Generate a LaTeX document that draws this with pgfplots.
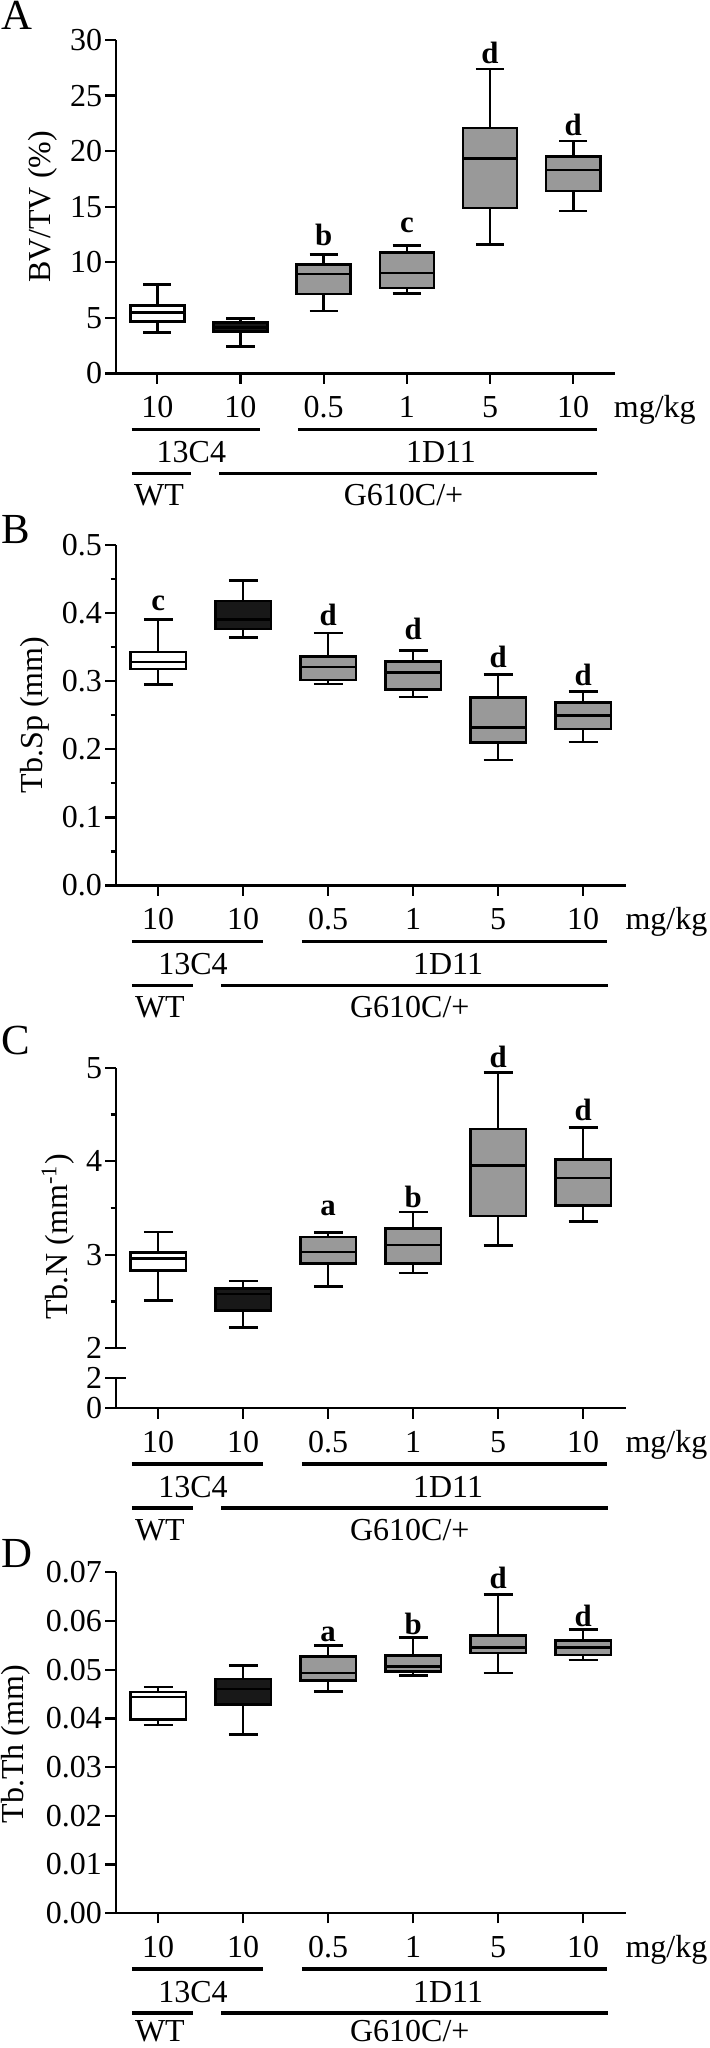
\documentclass[border=0pt]{standalone}
\usepackage{fontspec}
\setmainfont{Liberation Serif}
\usepackage{pgfplots}
\pgfplotsset{compat=1.18}
\usepgfplotslibrary{statistics}
\newcommand\lab{\fontsize{11.2}{13}\selectfont}
\definecolor{boxgray}{HTML}{999999}
\definecolor{boxblack}{HTML}{181818}
\newcommand{\bx}[7]{\addplot[boxplot prepared={draw position=#1, lower whisker=#2, lower quartile=#3, median=#4, upper quartile=#5, upper whisker=#6, box extend=0.65, whisker extend=0.34}, draw=black, line width=0.9pt, fill=#7] coordinates {};}
\newcommand{\sig}[3]{\node[font=\fontsize{10.8}{12}\selectfont\bfseries, inner sep=0pt] at (axis cs:#1,#2) {#3};}
\newcommand{\grp}[1][46.4pt]{%
 \draw[line width=1.25pt] ([yshift=-19.6pt]axis cs:0.69,0) -- ([yshift=-19.6pt]axis cs:2.23,0);
 \draw[line width=1.25pt] ([yshift=-19.6pt]axis cs:2.69,0) -- ([yshift=-19.6pt]axis cs:6.28,0);
 \draw[line width=1.25pt] ([yshift=-35pt]axis cs:0.69,0) -- ([yshift=-35pt]axis cs:1.41,0);
 \draw[line width=1.25pt] ([yshift=-35pt]axis cs:1.74,0) -- ([yshift=-35pt]axis cs:6.29,0);
 \node[anchor=base, font=\lab, inner sep=0pt] at ([yshift=-15.6pt]axis cs:6.98,0) {mg/kg};
 \node[anchor=base, font=\lab, inner sep=0pt] at ([yshift=-31.3pt]axis cs:1.41,0) {13C4};
 \node[anchor=base, font=\lab, inner sep=0pt] at ([yshift=-31.3pt]axis cs:4.41,0) {1D11};
 \node[anchor=base, font=\lab, inner sep=0pt] at ([yshift=-#1]axis cs:1.02,0) {WT};
 \node[anchor=base, font=\lab, inner sep=0pt] at ([yshift=-#1]axis cs:3.96,0) {G610C/+};
}
\pgfplotsset{myax/.style={scale only axis, axis x line*=bottom, axis y line*=left,
  boxplot/draw direction=y,
  xmin=0.5, xmax=6.5, ymin=0, xtick={1,...,6}, xticklabels={10,10,0.5,1,5,10},
  tick align=outside, major tick length=3.6pt, minor tick length=1.8pt,
  every tick/.style={black, line width=0.8pt}, axis line style={line width=0.8pt, black},
  ticklabel style={font=\lab},
  xticklabel style={anchor=base, yshift=-12pt},
  yticklabel style={inner sep=1pt},
  scaled y ticks=false, clip=false, width=178.5pt}}
\begin{document}
\begin{tikzpicture}
\begin{scope}[x=0.35pt,y=-0.35pt]
\path[use as bounding box] (0,0) rectangle (709,2048);
\end{scope}
% Panel A
\begin{axis}[myax, at={(40.5pt,-130.7pt)}, anchor=south west, width=174.7pt, height=116.7pt,
  ymax=30, ytick={0,5,10,15,20,25,30}, yticklabels={0,5,10,15,20,25,30}]
\bx{1}{3.7}{4.65}{5.5}{6.1}{8.0}{white}
\bx{2}{2.4}{3.75}{4.15}{4.6}{4.95}{boxblack}
\bx{3}{5.6}{7.15}{8.95}{9.8}{10.7}{boxgray}
\bx{4}{7.2}{7.7}{9.05}{10.9}{11.5}{boxgray}
\bx{5}{11.6}{14.9}{19.35}{22.1}{27.4}{boxgray}
\bx{6}{14.6}{16.4}{18.3}{19.5}{20.9}{boxgray}
\sig{3}{12.45}{b}\sig{4}{13.3}{c}\sig{5}{28.8}{d}\sig{6}{22.4}{d}
\grp
\end{axis}
% Panel B
\begin{axis}[myax, at={(40.5pt,-309.9pt)}, anchor=south west, height=119.1pt,
  ymax=0.5, ytick={0,0.1,0.2,0.3,0.4,0.5}, yticklabels={0.0,0.1,0.2,0.3,0.4,0.5},
  minor ytick={0.05,0.15,0.25,0.35,0.45}]
\bx{1}{0.295}{0.318}{0.328}{0.343}{0.391}{white}
\bx{2}{0.364}{0.377}{0.391}{0.418}{0.448}{boxblack}
\bx{3}{0.296}{0.302}{0.321}{0.336}{0.371}{boxgray}
\bx{4}{0.277}{0.288}{0.313}{0.329}{0.345}{boxgray}
\bx{5}{0.184}{0.210}{0.232}{0.276}{0.310}{boxgray}
\bx{6}{0.211}{0.230}{0.250}{0.269}{0.285}{boxgray}
\sig{1}{0.415}{c}\sig{3}{0.397}{d}\sig{4}{0.377}{d}\sig{5}{0.335}{d}\sig{6}{0.310}{d}
\grp
\end{axis}
% Panel C upper
\begin{axis}[myax, axis x line=none, at={(40.5pt,-471.9pt)}, anchor=south west, height=98.2pt,
  ymin=2, ymax=5, ytick={2,3,4,5}, yticklabels={2,3,4,5}, minor ytick={2.5,3.5,4.5}, xtick=\empty]
\bx{1}{2.510}{2.830}{2.958}{3.026}{3.243}{white}
\bx{2}{2.224}{2.403}{2.581}{2.641}{2.720}{boxblack}
\bx{3}{2.659}{2.905}{3.030}{3.190}{3.240}{boxgray}
\bx{4}{2.805}{2.905}{3.104}{3.283}{3.457}{boxgray}
\bx{5}{3.097}{3.414}{3.956}{4.344}{4.947}{boxgray}
\bx{6}{3.357}{3.528}{3.821}{4.017}{4.359}{boxgray}
\sig{3}{3.50}{a}\sig{4}{3.62}{b}\sig{5}{5.12}{d}\sig{6}{4.55}{d}
\draw[line width=0.8pt] (rel axis cs:0,0) -- ([xshift=3.6pt]rel axis cs:0,0);
\end{axis}
% Panel C lower
\begin{axis}[myax, at={(40.5pt,-492.9pt)}, anchor=south west, height=10.7pt,
  ymin=0, ymax=2, ytick={0,2}, yticklabels={0,2}]
\draw[line width=0.8pt] (rel axis cs:0,1) -- ([xshift=3.6pt]rel axis cs:0,1);
\grp
\end{axis}
% Panel D
\begin{axis}[myax, at={(40.5pt,-669.6pt)}, anchor=south west, height=119.3pt,
  ymax=0.07, ytick={0,0.01,0.02,0.03,0.04,0.05,0.06,0.07},
  yticklabels={0.00,0.01,0.02,0.03,0.04,0.05,0.06,0.07}]
\bx{1}{0.0386}{0.0398}{0.0444}{0.0454}{0.0464}{white}
\bx{2}{0.0367}{0.0428}{0.0460}{0.0481}{0.0509}{boxblack}
\bx{3}{0.0455}{0.0478}{0.0493}{0.0527}{0.0550}{boxgray}
\bx{4}{0.0488}{0.0496}{0.0507}{0.0529}{0.0566}{boxgray}
\bx{5}{0.0493}{0.0534}{0.0546}{0.0570}{0.0654}{boxgray}
\bx{6}{0.0520}{0.0530}{0.0545}{0.0560}{0.0583}{boxgray}
\sig{3}{0.0573}{a}\sig{4}{0.0594}{b}\sig{5}{0.0688}{d}\sig{6}{0.0611}{d}
\grp[45pt]
\end{axis}
\begin{scope}[x=0.35pt,y=-0.35pt]
\node[anchor=base west, inner sep=0pt, font=\fontsize{15}{17}\selectfont] at (1,30) {A};
\node[anchor=base west, inner sep=0pt, font=\fontsize{15}{17}\selectfont] at (1,544) {B};
\node[anchor=base west, inner sep=0pt, font=\fontsize{15}{17}\selectfont] at (1,1054) {C};
\node[anchor=base west, inner sep=0pt, font=\fontsize{15}{17}\selectfont] at (1,1567) {D};
\node[rotate=90, font=\lab, inner sep=0pt] at (43,207) {BV/TV (\%)};
\node[rotate=90, font=\lab, inner sep=0pt] at (35,715) {Tb.Sp (mm)};
\node[rotate=90, font=\lab, inner sep=0pt] at (58,1237) {Tb.N (mm\textsuperscript{-1})};
\node[rotate=90, font=\lab, inner sep=0pt] at (16,1744) {Tb.Th (mm)};
\end{scope}
\end{tikzpicture}
\end{document}
